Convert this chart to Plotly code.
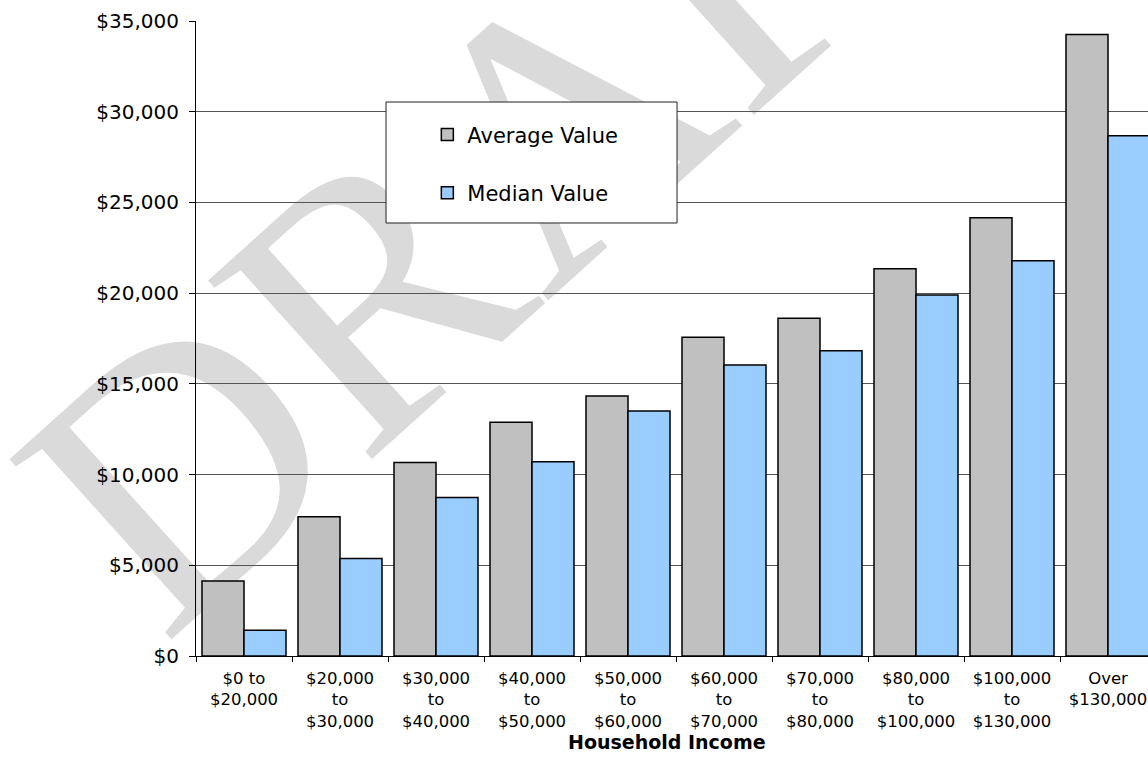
import plotly.graph_objects as go

categories = ["$0 to<br>$20,000", "$20,000<br>to<br>$30,000", "$30,000<br>to<br>$40,000",
              "$40,000<br>to<br>$50,000", "$50,000<br>to<br>$60,000", "$60,000<br>to<br>$70,000",
              "$70,000<br>to<br>$80,000", "$80,000<br>to<br>$100,000", "$100,000<br>to<br>$130,000",
              "Over<br>$130,000"]
average_values = [4140, 7670, 10670, 12880, 14330, 17570, 18620, 21340, 24150, 34250]
median_values = [1420, 5370, 8740, 10710, 13500, 16040, 16830, 19900, 21780, 28680]
y_ticks = [0, 5000, 10000, 15000, 20000, 25000, 30000, 35000]
y_tick_text = ["$" + format(v, ",") for v in y_ticks]

FONT = "DejaVu Sans, Verdana, sans-serif"

fig = go.Figure()
fig.add_trace(go.Bar(name="Average Value", x=categories, y=average_values,
                     marker=dict(color="#C0C0C0", line=dict(color="black", width=1.5)),
                     legendgroup="a"))
fig.add_trace(go.Bar(name="Median Value", x=categories, y=median_values,
                     marker=dict(color="#99CCFF", line=dict(color="black", width=1.5)),
                     legendgroup="b"))

fig.update_layout(
    width=1148, height=761,
    margin=dict(l=196, r=0, t=21, b=105),
    paper_bgcolor="white", plot_bgcolor="rgba(0,0,0,0)",
    barmode="group", bargap=0.125, bargroupgap=0,
    font=dict(family=FONT, color="black"),
    showlegend=True,
    legend=dict(x=0.243, y=0.853, xanchor="left", yanchor="top",
                bgcolor="rgba(0,0,0,0)", borderwidth=0,
                font=dict(size=21, family=FONT), traceorder="grouped",
                tracegroupgap=28),
    xaxis=dict(type="category", range=[-0.5, 9.4167], tickson="boundaries",
               ticks="outside", ticklen=5, tickcolor="black",
               showline=True, linecolor="black", linewidth=1,
               showgrid=False, tickfont=dict(size=16.5), ticklabelstandoff=7),
    yaxis=dict(range=[0, 35000], tickvals=y_ticks, ticktext=y_tick_text,
               ticks="outside", ticklen=6, tickcolor="black",
               showline=True, linecolor="black", linewidth=1,
               showgrid=True, gridcolor="#555555", gridwidth=1,
               tickfont=dict(size=20), zeroline=False, ticklabelstandoff=6),
    annotations=[
        dict(text="<b>Household Income</b>", xref="paper", yref="paper",
             x=0.4948, y=-0.1354, xanchor="center", yanchor="middle",
             showarrow=False, font=dict(size=19, family=FONT, color="black")),
    ],
    shapes=[
        dict(type="rect", xref="paper", yref="paper", x0=0.2635, x1=0.3835, y0=0.8122, y1=0.8822,
             layer="below", line=dict(width=0), fillcolor="rgba(0,0,0,0)",
             label=dict(text="DRAFT", textangle=-42, textposition="middle center",
                        font=dict(family="Liberation Serif, serif", size=370, color="#dadada"))),
        dict(type="rect", xref="paper", yref="paper",
             x0=0.1996, x1=0.5053, y0=0.6819, y1=0.8724,
             layer="above", fillcolor="white", line=dict(color="#222222", width=1)),
    ],
)

fig.write_html("out.html")
